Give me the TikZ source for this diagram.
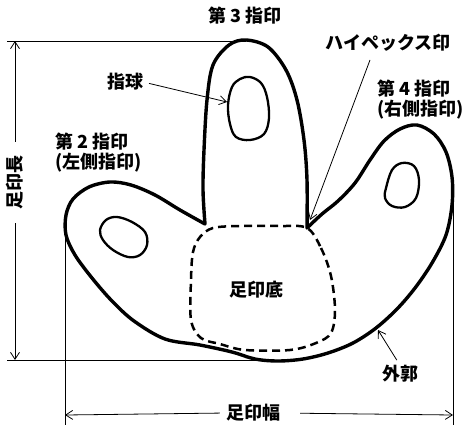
\documentclass[tikz,border=0pt]{standalone}
\usepackage{fontspec}
\setmainfont{Noto Sans CJK JP}
\usetikzlibrary{arrows.meta}
\begin{document}
\begin{tikzpicture}[x=1pt,y=-1pt,
  outline/.style={line width=3.4pt, line join=round, line cap=round},
  pad/.style={line width=2.3pt},
  sole/.style={line width=2.5pt, dash pattern=on 8pt off 5pt},
  dim/.style={line width=0.8pt},
  tip/.style={-{Straight Barb[length=7pt,width=9pt,line width=0.8pt]}},
  lbl/.style={font=\bfseries\fontsize{18}{20}\selectfont, inner sep=0pt},
]
\useasboundingbox (0,0) rectangle (470,428);

% foot outline: middle toe, then right toe, heel and left toe
\draw[outline]
  plot[smooth, tension=0.55] coordinates {(205,224) (203,190) (204,150) (207,100)
    (213,65) (229,45) (246,40) (268,47) (286,70) (297,100) (304,140) (307,180) (307,228)}
  -- plot[smooth, tension=0.55] coordinates {(307,228) (322,214) (338,201) (355,183)
    (370,160) (384,141) (400,129) (417,125) (434,134) (446,152) (452,177) (452,205)
    (446,235) (432,263) (415,288) (397,309) (376,328) (353,343) (328,353) (303,359)
    (278,361) (255,359) (232,352) (200,345) (165,339) (134,321)
    (112,301) (92,278) (75,255) (66,235) (66,215) (73,199) (89,187) (110,182)
    (131,185) (155,195) (180,210) (205,224)};

% toe pads
\draw[pad] plot[smooth cycle, tension=0.6] coordinates {(228,105) (232,87) (240,79)
  (250,77) (261,83) (267,97) (269,118) (264,134) (250,140) (236,137) (230,124)};
\draw[pad] plot[smooth cycle, tension=0.6] coordinates {(100,230) (106,220) (117,217)
  (132,222) (145,232) (147,245) (140,255) (128,257) (113,250) (103,240)};
\draw[pad] plot[smooth cycle, tension=0.6] coordinates {(386,188) (392,170) (402,163)
  (414,166) (419,180) (416,198) (405,207) (392,206) (385,198)};

% sole area (dashed)
\draw[sole] plot[smooth cycle, tension=0.55] coordinates {(307,228) (321,248) (331,276)
  (335,310) (331,333) (316,343) (290,350) (245,350) (220,344) (201,338) (191,320)
  (191,280) (193,252) (200,237) (213,228) (240,226) (280,226)};

% extension lines
\coordinate (topL) at (7,41);
\coordinate (topR) at (246,41);
\coordinate (botL) at (7,360);
\coordinate (botR) at (256,360);
\coordinate (leftT) at (65,230);
\coordinate (leftB) at (65,425);
\coordinate (rightT) at (453,195);
\coordinate (rightB) at (453,425);
\draw[dim] (topL) -- (topR);
\draw[dim] (botL) -- (botR);
\draw[dim] (leftT) -- (leftB);
\draw[dim] (rightT) -- (rightB);

% length dimension
\node[lbl, rotate=90] (lenlbl) at (15,182) {足印長};
\coordinate (lenT) at (15,41);
\coordinate (lenB) at (15,360);
\draw[dim, tip, shorten <=13pt] (lenlbl.east) -- (lenT);
\draw[dim, tip, shorten <=14pt] (lenlbl.west) -- (lenB);

% width dimension
\node[lbl] (widlbl) at (253,413) {足印幅};
\coordinate (widL) at (65,415);
\coordinate (widR) at (453,415);
\draw[dim, tip, shorten <=6pt] (widlbl.west) -- (widL);
\draw[dim, tip, shorten <=20pt] (widlbl.east) -- (widR);

% labels
\node[lbl] (toe3) at (245,16) {第 3 指印};
\node[lbl, align=left, anchor=north west] (toe2) at (55,133) {第 2 指印\\(左側指印)};
\node[lbl, align=left, anchor=north west] (toe4) at (377,80) {第 4 指印\\(右側指印)};
\node[lbl] (ball) at (125,82) {指球};
\node[lbl] (hypex) at (388,43) {ハイペックス印};
\node[lbl] (sole) at (256,290) {足印底};
\node[lbl] (rim) at (400,374) {外郭};

% pointers
\coordinate (ballTip) at (227,102);
\coordinate (hypexFrom) at (370,60);
\coordinate (hypexTip) at (310,220);
\coordinate (rimTip) at (378,330);
\draw[dim, tip, shorten <=6pt] (ball.east) -- (ballTip);
\draw[dim, tip] (hypexFrom) -- (hypexTip);
\draw[dim, tip, shorten <=6pt] (rim.north) -- (rimTip);
\end{tikzpicture}
\end{document}
